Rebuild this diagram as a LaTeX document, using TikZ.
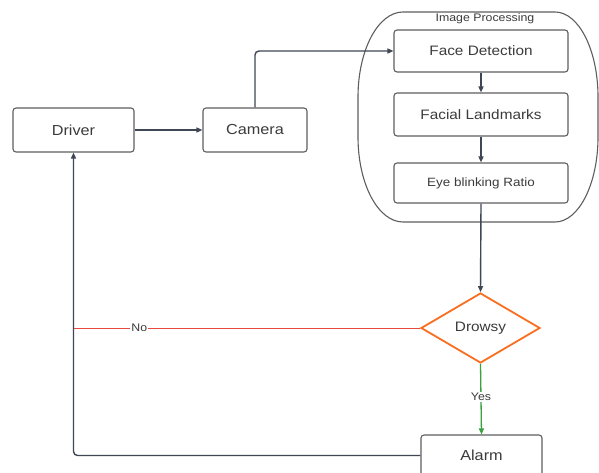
\documentclass[tikz,border=0pt]{standalone}
\usepackage{fontspec}
\setmainfont{Liberation Sans}[FakeStretch=1.12]
\usetikzlibrary{shapes.geometric,arrows.meta}
\definecolor{txt}{HTML}{3B3B3B}
\definecolor{bord}{HTML}{5E5E5E}
\definecolor{arr}{HTML}{3F4654}
\definecolor{nored}{HTML}{E84A3F}
\definecolor{yesgreen}{HTML}{3AA040}
\definecolor{dorange}{HTML}{FA6E20}
\tikzset{
  box/.style={draw=bord, line width=1.1pt, rounded corners=3pt, text=txt, inner sep=0pt, anchor=center},
  conn/.style={draw=arr, line width=1.4pt, -{Triangle[length=6pt,width=5pt]}},
  lbl/.style={fill=white, text=txt, inner sep=1pt, font=\fontsize{11}{12}\selectfont},
}
\begin{document}
\begin{tikzpicture}[x=1pt,y=-1pt]
\useasboundingbox (0,0) rectangle (599,473);
\fill[white] (0,0) rectangle (599,473);
\clip (0,0) rectangle (599,473);
% container
\draw[bord, line width=1.1pt] (403,12) -- (555,12)
  .. controls (578.7,12) and (598,50.1) .. (598,97) -- (598,137)
  .. controls (598,183.9) and (578.7,222) .. (555,222) -- (403,222)
  .. controls (378.1,222) and (358,183.9) .. (358,137) -- (358,97)
  .. controls (358,50.1) and (378.1,12) .. (403,12) -- cycle;
\node[text=txt, font=\fontsize{11}{12}\selectfont] (iplabel) at (485,19) {Image Processing};
% nodes
\node[box, minimum width=121pt, minimum height=44pt, font=\fontsize{14.5}{16}\selectfont] (driver) at (73.5,130) {Driver};
\node[box, minimum width=104pt, minimum height=44pt, font=\fontsize{14.5}{16}\selectfont] (camera) at (255,130) {Camera};
\node[box, minimum width=174pt, minimum height=42pt, font=\fontsize{13.7}{15}\selectfont] (face) at (481,51) {Face Detection};
\node[box, minimum width=174pt, minimum height=43pt, font=\fontsize{13.7}{15}\selectfont] (facial) at (481,114.5) {Facial Landmarks};
\node[box, minimum width=174pt, minimum height=40pt, font=\fontsize{12}{14}\selectfont] (eye) at (481,183) {Eye blinking Ratio};
\node[diamond, draw=dorange, line width=1.8pt, minimum width=119pt, minimum height=70pt, inner sep=0pt, aspect=1.7, text=txt, font=\fontsize{13.7}{15}\selectfont] (drowsy) at (480.5,328) {Drowsy};
\node[box, minimum width=121pt, minimum height=41pt, font=\fontsize{14.5}{16}\selectfont] (alarm) at (481.5,455.5) {Alarm};
% connectors
\draw[conn] (driver.east) -- (camera.west);
\draw[conn, rounded corners=4pt] (camera.north) |- (face.west);
\draw[conn] (face.south) -- (facial.north);
\draw[conn] (facial.south) -- (eye.north);
\draw[conn] (eye.south) -- (drowsy.north);
\draw[yesgreen, line width=1.3pt, -{Triangle[length=6pt,width=5pt]}] (drowsy.south) -- node[lbl, pos=0.47] {Yes} (alarm.north);
\draw[conn, rounded corners=4pt] (alarm.west) -| (driver.south);
\draw[nored, line width=1pt] (drowsy.west) -- node[lbl, pos=0.81] {No} (drowsy.west -| driver.south);
\end{tikzpicture}
\end{document}
